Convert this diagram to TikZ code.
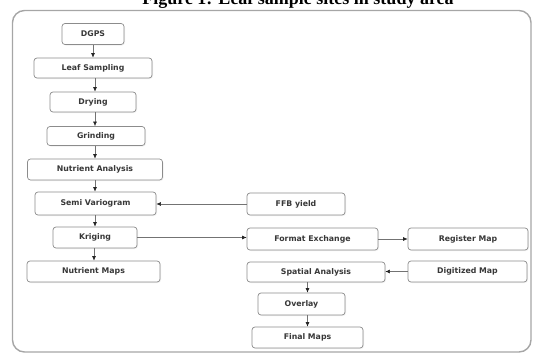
\documentclass[tikz,border=0pt]{standalone}
\usepackage{fontspec}
\setmainfont{Liberation Serif}
\newfontfamily\boxfont{DejaVu Sans}
\usetikzlibrary{arrows.meta,shadows}
\tikzset{
  box/.style={draw=black!45, line width=0.7pt, rounded corners=3pt, fill=white,
    font=\boxfont\bfseries\fontsize{7.8}{9}\selectfont, text=black!78,
    inner sep=0pt, drop shadow={opacity=0.12, shadow xshift=1pt, shadow yshift=-1pt}},
  arr/.style={draw=black!55, line width=0.6pt, -{Latex[length=4.5pt,width=4pt,color=black!85]}},
  frame/.style={draw=black!35, line width=1.4pt, rounded corners=12pt}
}
\begin{document}
\begin{tikzpicture}[x=1pt,y=-1pt]
\useasboundingbox (0,0) rectangle (535,356);
\node[anchor=base, font=\bfseries\fontsize{18}{20}\selectfont] (title) at (298,5) {Figure 1: Leaf sample sites in study area};
\draw[frame] (12.5,10.5) rectangle (531,352);
% left column
\node[box, minimum width=62pt, minimum height=21pt] (dgps) at (93,34) {DGPS};
\node[box, minimum width=118pt, minimum height=20pt] (leaf) at (93,68) {Leaf Sampling};
\node[box, minimum width=86pt, minimum height=20pt] (dry) at (93,102) {Drying};
\node[box, minimum width=98pt, minimum height=19pt] (grind) at (96,136) {Grinding};
\node[box, minimum width=135pt, minimum height=21pt] (nutan) at (95,169.5) {Nutrient Analysis};
\node[box, minimum width=121pt, minimum height=23pt] (semi) at (95.5,203.5) {Semi Variogram};
\node[box, minimum width=84pt, minimum height=21pt] (krig) at (95,237.5) {Kriging};
\node[box, minimum width=133pt, minimum height=21pt] (nutmap) at (93.5,271.5) {Nutrient Maps};
% right part
\node[box, minimum width=98pt, minimum height=22pt] (ffb) at (296,204) {FFB yield};
\node[box, minimum width=131pt, minimum height=22pt] (format) at (312.5,239) {Format Exchange};
\node[box, minimum width=120pt, minimum height=22pt] (register) at (468,239) {Register Map};
\node[box, minimum width=138pt, minimum height=20pt] (spatial) at (316,272) {Spatial Analysis};
\node[box, minimum width=119pt, minimum height=21pt] (digit) at (467.5,271.5) {Digitized Map};
\node[box, minimum width=87pt, minimum height=22pt] (overlay) at (301.5,304) {Overlay};
\node[box, minimum width=111pt, minimum height=21pt] (final) at (307.5,337.5) {Final Maps};
% connectors
\draw[arr] (dgps.south) -- (dgps.south |- leaf.north);
\draw[arr] (leaf.south -| 95,0) -- (dry.north -| 95,0);
\draw[arr] (dry.south -| 95,0) -- (grind.north -| 95,0);
\draw[arr] (grind.south -| 95,0) -- (nutan.north -| 95,0);
\draw[arr] (nutan.south -| 95,0) -- (semi.north -| 95,0);
\draw[arr] (semi.south -| 95,0) -- (krig.north -| 95,0);
\draw[arr] (krig.south -| 94,0) -- (nutmap.north -| 94,0);
\draw[arr] (ffb.west) -- (ffb.west -| semi.east);
\draw[arr] (krig.east) -- (krig.east -| format.west);
\draw[arr] (format.east) -- (format.east -| register.west);
\draw[arr] (digit.west) -- (digit.west -| spatial.east);
\draw[arr] (spatial.south -| final) -- (overlay.north -| final);
\draw[arr] (overlay.south -| final) -- (final.north);
\end{tikzpicture}
\end{document}
